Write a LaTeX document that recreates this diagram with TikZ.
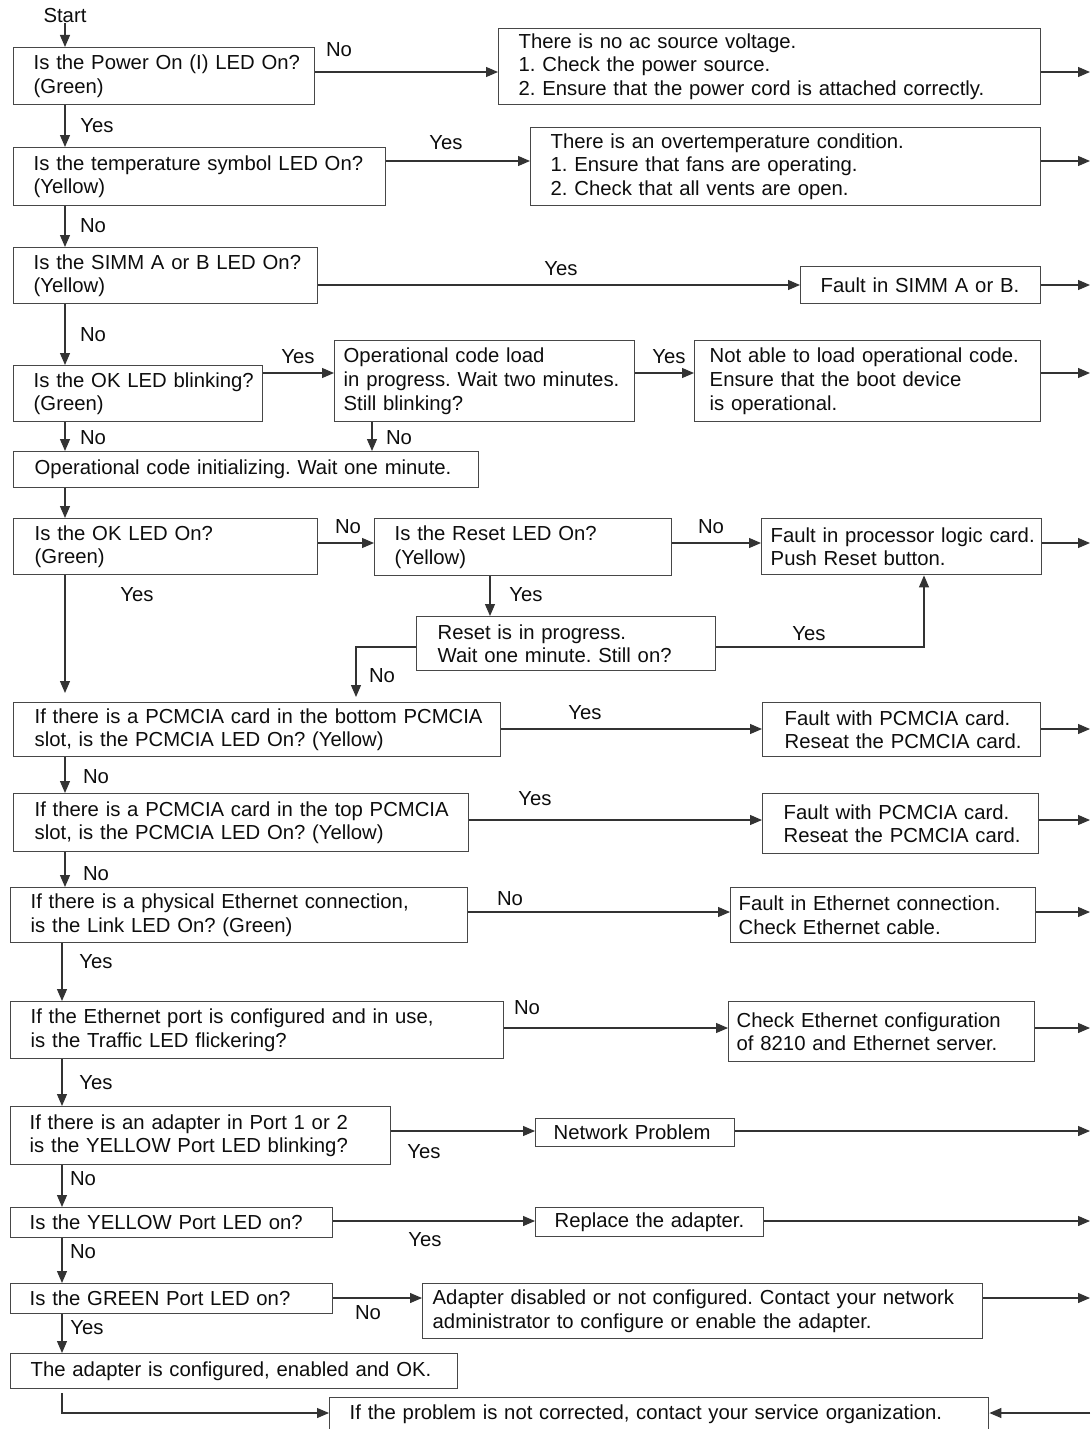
\documentclass[tikz,border=0pt]{standalone}
\usepackage{fontspec}
\setmainfont{Liberation Sans}
\usetikzlibrary{arrows.meta,calc}
\frenchspacing
\newcommand\bx[7]{\node[box, lp=#6, text width=#4pt, minimum height=#5pt] (#1) at (#2,#3) {#7};}
\begin{document}
\begin{tikzpicture}[x=1pt,y=-1pt,
  txt/.style={font=\fontsize{20.3}{23.6}\selectfont\frenchspacing, text=black!95},
  box/.style={txt, draw=black!72, line width=1.4pt, anchor=north west, inner xsep=0pt, inner ysep=0pt, align=left},
  lp/.style={execute at begin node={\leftskip=#1pt}},
  arr/.style={draw=black!80, line width=1.2pt, -{Triangle[length=12pt,width=10pt]}},
  lbl/.style={txt, inner sep=0pt}]
\useasboundingbox (0,0) rectangle (1090,1429);
% ---------------- boxes ----------------
\bx{b1}{13}{47}{301}{57}{20}{Is the Power On (I) LED On?\\(Green)}
\bx{a1}{498}{28}{542}{76}{20}{There is no ac source voltage.\\1. Check the power source.\\2. Ensure that the power cord is attached correctly.}
\bx{b2}{13}{147}{372}{58}{20}{Is the temperature symbol LED On?\\(Yellow)}
\bx{a2}{530}{127}{510}{78}{20}{There is an overtemperature condition.\\1. Ensure that fans are operating.\\2. Check that all vents are open.}
\bx{b3}{13}{247}{304}{56}{20}{Is the SIMM A or B LED On?\\(Yellow)}
\bx{a3}{800}{266}{240}{37}{20}{Fault in SIMM A or B.}
\bx{b4}{13}{365}{249}{56}{20}{Is the OK LED blinking?\\(Green)}
\bx{ob}{334}{340}{300}{81}{9}{Operational code load\\in progress. Wait two minutes.\\Still blinking?}
\bx{nl}{694}{340}{346}{81}{15}{Not able to load operational code.\\Ensure that the boot device\\is operational.}
\bx{b5}{13}{451}{465}{36}{21}{Operational code initializing. Wait one minute.}
\bx{b6}{13}{518}{304}{56}{21}{Is the OK LED On?\\(Green)}
\bx{rs}{374}{518}{297}{57}{20}{Is the Reset LED On?\\(Yellow)}
\bx{fp}{761}{518}{280}{56}{9}{Fault in processor logic card.\\Push Reset button.}
\bx{rp}{416}{616}{299}{54}{21}{Reset is in progress.\\Wait one minute. Still on?}
\bx{b7}{13}{702}{487}{54}{21}{If there is a PCMCIA card in the bottom PCMCIA\\slot, is the PCMCIA LED On? (Yellow)}
\bx{g7}{762}{702}{278}{54}{22}{Fault with PCMCIA card.\\Reseat the PCMCIA card.}
\bx{b8}{13}{793}{455}{58}{21}{If there is a PCMCIA card in the top PCMCIA\\slot, is the PCMCIA LED On? (Yellow)}
\bx{g8}{762}{793}{276}{60}{21}{Fault with PCMCIA card.\\Reseat the PCMCIA card.}
\bx{b9}{10}{887}{457}{55}{20}{If there is a physical Ethernet connection,\\is the Link LED On? (Green)}
\bx{h9}{730}{887}{305}{55}{8}{Fault in Ethernet connection.\\Check Ethernet cable.}
\bx{b10}{10}{1001}{493}{57}{20}{If the Ethernet port is configured and in use,\\is the Traffic LED flickering?}
\bx{h10}{728}{1001}{306}{60}{8}{Check Ethernet configuration\\of 8210 and Ethernet server.}
\bx{b11}{10}{1106}{380}{58}{19}{If there is an adapter in Port 1 or 2\\is the YELLOW Port LED blinking?}
\bx{np}{535}{1118}{199}{28}{18}{Network Problem}
\bx{b12}{10}{1207}{322}{30}{19}{Is the YELLOW Port LED on?}
\bx{ra}{535}{1207}{228}{29}{19}{Replace the adapter.}
\bx{b13}{10}{1283}{322}{30}{19}{Is the GREEN Port LED on?}
\bx{ad}{422}{1283}{560}{55}{10}{Adapter disabled or not configured. Contact your network\\administrator to configure or enable the adapter.}
\bx{b14}{10}{1353}{447}{35}{20}{The adapter is configured, enabled and OK.}
\bx{fin}{329}{1397}{659}{33}{20}{If the problem is not corrected, contact your service organization.}
% ---------------- labels ----------------
\node[lbl] (start) at (65,16) {Start};
\node[lbl] (l1) at (339,50) {No};
\node[lbl] (l2) at (97,126) {Yes};
\node[lbl] (l3) at (446,143) {Yes};
\node[lbl] (l4) at (93,226) {No};
\node[lbl] (l5) at (561,269) {Yes};
\node[lbl] (l6) at (93,335) {No};
\node[lbl] (l7) at (298,357) {Yes};
\node[lbl] (l8) at (669,357) {Yes};
\node[lbl] (l9) at (93,438) {No};
\node[lbl] (l10) at (399,438) {No};
\node[lbl] (l11) at (348,527) {No};
\node[lbl] (l12) at (711,527) {No};
\node[lbl] (l13) at (137,595) {Yes};
\node[lbl] (l14) at (526,595) {Yes};
\node[lbl] (l15) at (809,634) {Yes};
\node[lbl] (l16) at (382,676) {No};
\node[lbl] (l17) at (585,713) {Yes};
\node[lbl] (l18) at (96,777) {No};
\node[lbl] (l19) at (535,799) {Yes};
\node[lbl] (l20) at (96,874) {No};
\node[lbl] (l21) at (510,899) {No};
\node[lbl] (l22) at (96,962) {Yes};
\node[lbl] (l23) at (527,1008) {No};
\node[lbl] (l24) at (96,1083) {Yes};
\node[lbl] (l25) at (424,1152) {Yes};
\node[lbl] (l26) at (83,1179) {No};
\node[lbl] (l27) at (425,1240) {Yes};
\node[lbl] (l28) at (83,1252) {No};
\node[lbl] (l29) at (368,1313) {No};
\node[lbl] (l30) at (87,1328) {Yes};
% free ends at the right edge
\coordinate (e1) at (1090,72);
\coordinate (e2) at (1090,161);
\coordinate (e3) at (1090,285);
\coordinate (e4) at (1090,373);
\coordinate (e5) at (1090,543);
\coordinate (e6) at (1090,729);
\coordinate (e7) at (1090,820);
\coordinate (e8) at (1090,912);
\coordinate (e9) at (1090,1028);
\coordinate (e10) at (1090,1131);
\coordinate (e11) at (1090,1221);
\coordinate (e12) at (1090,1298);
\coordinate (e13) at (1090,1413);
% ---------------- vertical flow ----------------
\draw[arr] (start.south) -- (b1.north -| start);
\draw[arr] (b1.south -| 65,0) -- (b2.north -| 65,0);
\draw[arr] (b2.south -| 65,0) -- (b3.north -| 65,0);
\draw[arr] (b3.south -| 65,0) -- (b4.north -| 65,0);
\draw[arr] (b4.south -| 65,0) -- (b5.north -| 65,0);
\draw[arr] (ob.south -| 372,0) -- (b5.north -| 372,0);
\draw[arr] (b5.south -| 65,0) -- (b6.north -| 65,0);
\draw[arr, shorten >=9pt] (b6.south -| 65,0) -- (b7.north -| 65,0);
\draw[arr] (rs.south -| 490,0) -- (rp.north -| 490,0);
\draw[arr] (b7.south -| 65,0) -- (b8.north -| 65,0);
\draw[arr] (b8.south -| 65,0) -- (b9.north -| 65,0);
\draw[arr] (b9.south -| 62,0) -- (b10.north -| 62,0);
\draw[arr] (b10.south -| 62,0) -- (b11.north -| 62,0);
\draw[arr] (b11.south -| 62,0) -- (b12.north -| 62,0);
\draw[arr] (b12.south -| 62,0) -- (b13.north -| 62,0);
\draw[arr] (b13.south -| 62,0) -- (b14.north -| 62,0);
% ---------------- horizontal flow ----------------
\draw[arr] (b1.east |- e1) -- (a1.west |- e1);
\draw[arr] (b2.east |- e2) -- (a2.west |- e2);
\draw[arr] (b3.east |- e3) -- (a3.west |- e3);
\draw[arr] (b4.east |- e4) -- (ob.west |- e4);
\draw[arr] (ob.east |- e4) -- (nl.west |- e4);
\draw[arr] (b6.east |- e5) -- (rs.west |- e5);
\draw[arr] (rs.east |- e5) -- (fp.west |- e5);
\draw[arr] (rp.east |- 0,647) -| (fp.south -| 924,0);
\draw[arr, shorten >=5pt] (rp.west |- 0,647) -| (b7.north -| 356,0);
\draw[arr] (b7.east |- e6) -- (g7.west |- e6);
\draw[arr] (b8.east |- e7) -- (g8.west |- e7);
\draw[arr] (b9.east |- e8) -- (h9.west |- e8);
\draw[arr] (b10.east |- e9) -- (h10.west |- e9);
\draw[arr] (b11.east |- e10) -- (np.west |- e10);
\draw[arr] (b12.east |- e11) -- (ra.west |- e11);
\draw[arr] (b13.east |- e12) -- (ad.west |- e12);
\draw[arr, shorten <=4pt] (b14.south -| 62,0) |- (fin.west |- e13);
% ---------------- exits at the right edge ----------------
\draw[arr] (a1.east |- e1) -- (e1);
\draw[arr] (a2.east |- e2) -- (e2);
\draw[arr] (a3.east |- e3) -- (e3);
\draw[arr] (nl.east |- e4) -- (e4);
\draw[arr] (fp.east |- e5) -- (e5);
\draw[arr] (g7.east |- e6) -- (e6);
\draw[arr] (g8.east |- e7) -- (e7);
\draw[arr] (h9.east |- e8) -- (e8);
\draw[arr] (h10.east |- e9) -- (e9);
\draw[arr] (np.east |- e10) -- (e10);
\draw[arr] (ra.east |- e11) -- (e11);
\draw[arr] (ad.east |- e12) -- (e12);
\draw[arr] (e13) -- (fin.east |- e13);
\end{tikzpicture}
\end{document}
